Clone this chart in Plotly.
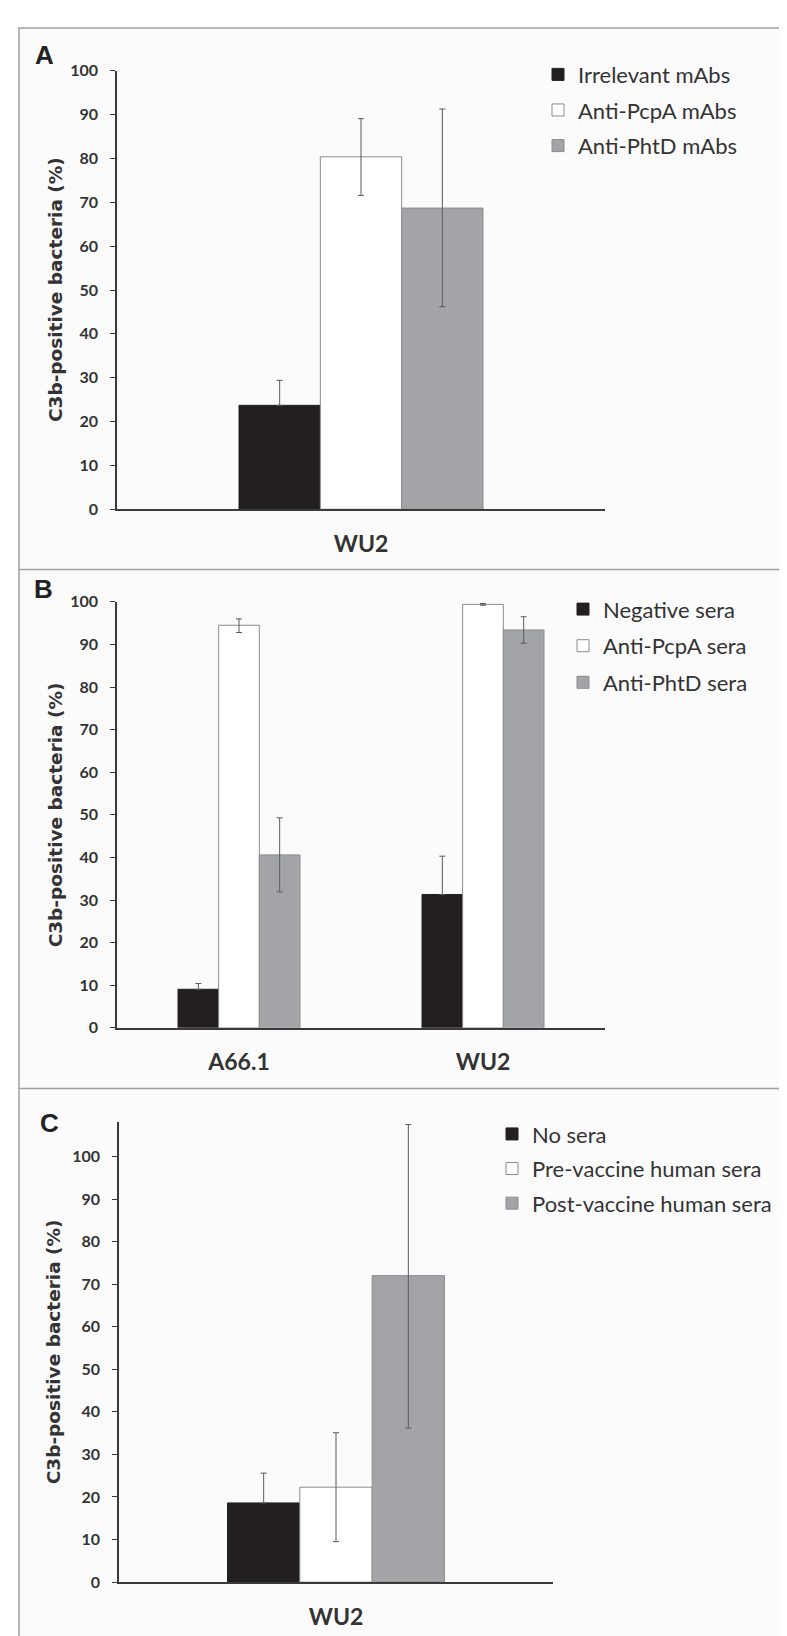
import plotly.graph_objects as go

W, H = 787, 1636

# ---------------- data ----------------
series_colors = ["#231f20", "#ffffff", "#a2a4a7"]
line_colors = ["#231f20", "#8c8c8c", "#8c8c8c"]

categories_A = ["WU2"]
series_A = ["Irrelevant mAbs", "Anti-PcpA mAbs", "Anti-PhtD mAbs"]
values_A = [[23.7], [80.4], [68.7]]
err_plus_A = [[5.7], [8.7], [22.6]]
err_minus_A = [[0], [8.8], [22.5]]

categories_B = ["A66.1", "WU2"]
series_B = ["Negative sera", "Anti-PcpA sera", "Anti-PhtD sera"]
values_B = [[9.05, 31.3], [94.5, 99.4], [40.6, 93.4]]
err_plus_B = [[1.35, 9.0], [1.5, 0.2], [8.7, 3.1]]
err_minus_B = [[0, 0], [1.7, 0.2], [8.7, 3.1]]

categories_C = ["WU2"]
series_C = ["No sera", "Pre-vaccine human sera", "Post-vaccine human sera"]
values_C = [[18.6], [22.3], [72.0]]
err_plus_C = [[7.0], [12.8], [35.5]]
err_minus_C = [[0], [12.8], [35.8]]

y_ticks = list(range(0, 101, 10))
y_title = "C3b-positive bacteria (%)"

# ---------------- helpers ----------------
def px_x(v):
    return v / W

def px_y(v):
    return 1 - v / H

TEXT = "#333333"
AXIS = "#3a3a3a"

fig = go.Figure()

panels = [
    ("x", "y", "legend", categories_A, series_A, values_A, err_plus_A, err_minus_A),
    ("x2", "y2", "legend2", categories_B, series_B, values_B, err_plus_B, err_minus_B),
    ("x3", "y3", "legend3", categories_C, series_C, values_C, err_plus_C, err_minus_C),
]

for xa, ya, lg, cats, names, vals, ep, em in panels:
    for i, name in enumerate(names):
        fig.add_trace(go.Bar(
            x=cats, y=vals[i], name=name,
            xaxis=xa, yaxis=ya, legend=lg, legendgroup=lg + str(i),
            marker=dict(color=series_colors[i], line=dict(color=line_colors[i], width=1)),
            error_y=dict(type="data", symmetric=False, array=ep[i], arrayminus=em[i],
                         color="#5a5a5a", thickness=1, width=3),
        ))

xdom_AB = [px_x(109), px_x(597)]
xdom_C = [px_x(111), px_x(545)]
ydom_A = [px_y(497), px_y(53.5)]
ydom_B = [px_y(1021.7), px_y(590.7)]
ydom_C = [px_y(1582.5), px_y(1117.4)]

tick_font = dict(family="Lato", size=16, color=TEXT, weight="bold")
cat_font = dict(family="Lato", size=23, color=TEXT, weight="bold")

def yax(dom, anchor, rng):
    return dict(domain=dom, anchor=anchor, range=rng, tickvals=y_ticks,
                showline=True, linecolor=AXIS, linewidth=1.5,
                ticks="outside", ticklen=5, tickwidth=1.2, tickcolor=AXIS,
                showgrid=False, zeroline=False, tickfont=tick_font,
                ticklabelstandoff=9, fixedrange=True)

def xax(dom, anchor, rng):
    return dict(domain=dom, anchor=anchor, range=rng, type="category",
                showline=True, linecolor=AXIS, linewidth=2, ticks="",
                showgrid=False, zeroline=False, tickfont=cat_font,
                ticklabelstandoff=13, fixedrange=True)

legend_font = dict(family="Lato", size=22, color=TEXT)

def leg(x_left, y_first_center, gap):
    return dict(x=px_x(x_left), y=px_y(y_first_center - 16), xanchor="left", yanchor="top",
                font=legend_font, tracegroupgap=gap, traceorder="grouped",
                bgcolor="rgba(0,0,0,0)", borderwidth=0)

fig.update_layout(
    width=W, height=H,
    margin=dict(l=0, r=0, t=0, b=0),
    paper_bgcolor="#ffffff",
    plot_bgcolor="rgba(0,0,0,0)",
    barmode="group", bargap=0.5, bargroupgap=0,
    showlegend=True,
    xaxis=xax(xdom_AB, "y", [-0.5, 0.5]),
    yaxis=yax(ydom_A, "x", [0, 100]),
    xaxis2=xax(xdom_AB, "y2", [-0.5, 1.5]),
    yaxis2=yax(ydom_B, "x2", [0, 100]),
    xaxis3=xax(xdom_C, "y3", [-0.5, 0.5]),
    yaxis3=yax(ydom_C, "x3", [0, 108]),
    legend=leg(530, 52, 4),
    legend2=leg(555, 593, 5),
    legend3=leg(484, 1124, 3),
)

# panel frames
shapes = [
    dict(type="rect", xref="paper", yref="paper", x0=px_x(11), x1=px_x(800), y0=px_y(1650), y1=px_y(10),
         fillcolor="#fbfbfb", line=dict(color="#a0a0a0", width=1.5), layer="below"),
    dict(type="line", xref="paper", yref="paper", x0=px_x(11), x1=1, y0=px_y(558), y1=px_y(558),
         line=dict(color="#a0a0a0", width=1.5), layer="below"),
    dict(type="line", xref="paper", yref="paper", x0=px_x(11), x1=1, y0=px_y(1083), y1=px_y(1083),
         line=dict(color="#a0a0a0", width=1.5), layer="below"),
]
fig.update_layout(shapes=shapes)

annotations = []
for label, (lx, ly) in zip(["A", "B", "C"], [(36.5, 37), (35, 578), (41, 1118)]):
    annotations.append(dict(text=label, x=px_x(lx), y=px_y(ly), xref="paper", yref="paper",
                            xanchor="center", yanchor="middle", showarrow=False,
                            font=dict(family="Liberation Sans", size=26, color="#222222", weight="bold")))
for yref, tx in [("y domain", 47), ("y2 domain", 47.5), ("y3 domain", 45)]:
    annotations.append(dict(text=y_title, x=px_x(tx), y=0.5, xref="paper", yref=yref,
                            xanchor="center", yanchor="middle", textangle=-90, showarrow=False,
                            font=dict(family="DejaVu Sans", size=18.5, color=TEXT, weight="bold")))
fig.update_layout(annotations=annotations)

fig.write_html("out.html")
